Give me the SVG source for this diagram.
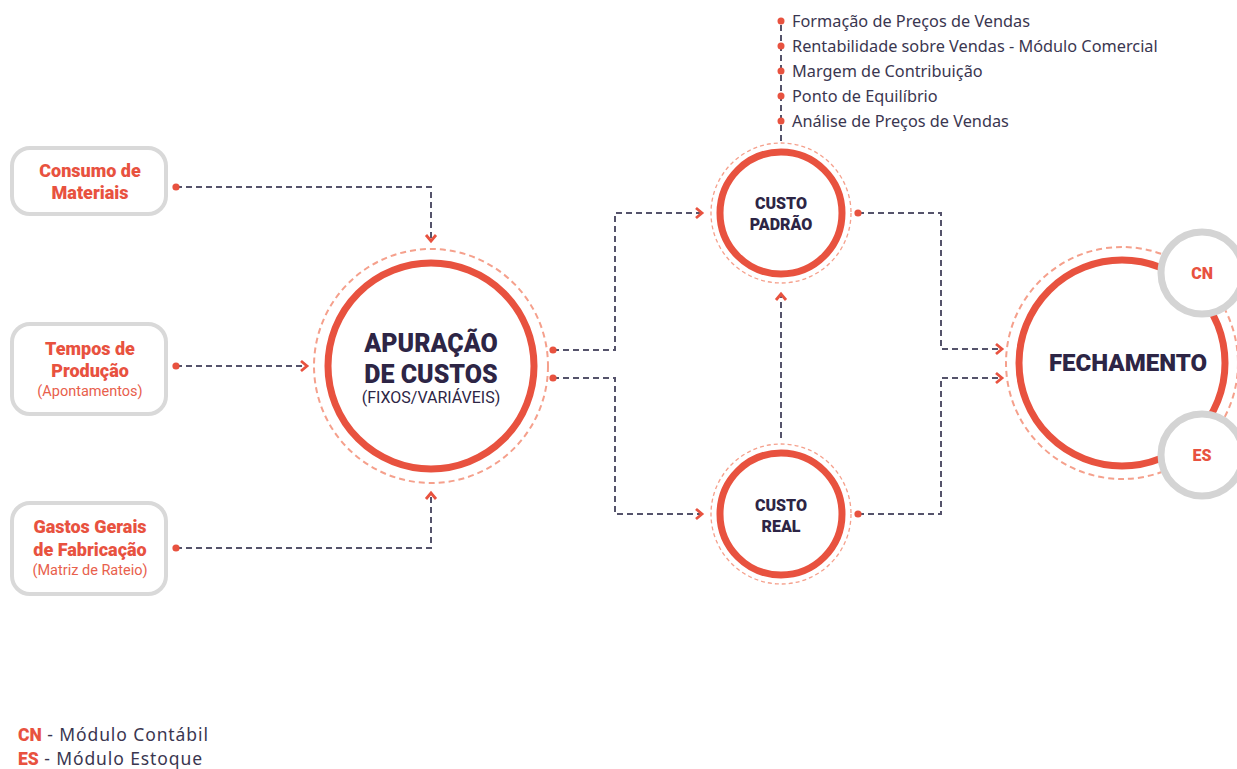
<svg xmlns="http://www.w3.org/2000/svg" width="1237" height="769" viewBox="0 0 1237 769">
<style>
.box{fill:#fff;stroke:#d9d9d9;stroke-width:4}
.ring{fill:#fff;stroke:#e8523f;stroke-width:7}
.halo{fill:none;stroke:#f5a08c;stroke-width:2;stroke-dasharray:6 4}
.halo2{fill:none;stroke:#f5a08c;stroke-width:1.3;stroke-dasharray:4 3}
.conn{fill:none;stroke:#55536b;stroke-width:2;stroke-dasharray:6 4}
.bt{font-family:Roboto,"Liberation Sans",sans-serif;font-weight:900;fill:#e8523f;text-anchor:middle}
.st{font-family:Roboto,"Liberation Sans",sans-serif;font-weight:400;fill:#e8604c;text-anchor:middle;font-size:14.5px}
.nt{font-family:Roboto,"Liberation Sans",sans-serif;font-weight:900;fill:#2d2545;text-anchor:middle}
.nr{font-family:Roboto,"Liberation Sans",sans-serif;font-weight:400;fill:#2d2545;text-anchor:middle}
.lt{font-family:"Noto Sans","Open Sans",sans-serif;fill:#3a3650;font-size:16.3px}
.lg{font-family:"Noto Sans","Open Sans",sans-serif;fill:#3a3650;font-size:17.5px;letter-spacing:0.9px}
.dot{fill:#e8523f}
.mod{fill:#fff;stroke:#d4d4d4;stroke-width:7}
</style>
<defs>
<marker id="arr" markerUnits="userSpaceOnUse" markerWidth="12" markerHeight="14" refX="8" refY="7" orient="auto">
<path d="M2,2 L8,7 L2,12" fill="none" stroke="#e8523f" stroke-width="2.8"/>
</marker>
<marker id="dot" markerUnits="userSpaceOnUse" markerWidth="10" markerHeight="10" refX="5" refY="5">
<circle cx="5" cy="5" r="3.6" fill="#e8523f"/>
</marker>
</defs>

<g id="connectors">
<path class="conn" d="M176,187 H431 V241" marker-start="url(#dot)" marker-end="url(#arr)"/>
<path class="conn" d="M176,366 H307" marker-start="url(#dot)" marker-end="url(#arr)"/>
<path class="conn" d="M176,548 H431 V493" marker-start="url(#dot)" marker-end="url(#arr)"/>
<path class="conn" d="M553,350 H615 V213 H702" marker-start="url(#dot)" marker-end="url(#arr)"/>
<path class="conn" d="M553,378 H615 V514 H702" marker-start="url(#dot)" marker-end="url(#arr)"/>
<path class="conn" d="M781,438 V294" marker-end="url(#arr)"/>
<path class="conn" d="M858,213 H941 V349 H1002" marker-start="url(#dot)" marker-end="url(#arr)"/>
<path class="conn" d="M858,514 H941 V378 H1002" marker-start="url(#dot)" marker-end="url(#arr)"/>
<path class="conn" d="M781,141 V21"/>
</g>

<g id="consumo">
<rect class="box" x="12" y="148" width="154" height="66" rx="18"/>
<text class="bt" x="90" y="177" font-size="18">Consumo de</text>
<text class="bt" x="90" y="199" font-size="18">Materiais</text>
</g>

<g id="tempos">
<rect class="box" x="12" y="324" width="154" height="90" rx="18"/>
<text class="bt" x="90" y="355" font-size="18">Tempos de</text>
<text class="bt" x="90" y="377" font-size="18">Produção</text>
<text class="st" x="90" y="396">(Apontamentos)</text>
</g>

<g id="gastos">
<rect class="box" x="12" y="503" width="154" height="91" rx="18"/>
<text class="bt" x="90" y="533" font-size="18">Gastos Gerais</text>
<text class="bt" x="90" y="556" font-size="18">de Fabricação</text>
<text class="st" x="90" y="575">(Matriz de Rateio)</text>
</g>

<g id="apuracao">
<circle class="halo" cx="431" cy="366" r="117"/>
<circle class="ring" cx="431" cy="366" r="103"/>
<text class="nt" x="431" y="352" font-size="25">APURAÇÃO</text>
<text class="nt" x="431" y="383" font-size="25">DE CUSTOS</text>
<text class="nr" x="431" y="403" font-size="16">(FIXOS/VARIÁVEIS)</text>
</g>

<g id="custo-padrao">
<circle class="halo2" cx="781" cy="213" r="70"/>
<circle class="ring" cx="781" cy="213" r="61" stroke-width="6"/>
<text class="nt" x="781" y="209" font-size="16">CUSTO</text>
<text class="nt" x="781" y="230" font-size="16">PADRÃO</text>
</g>

<g id="custo-real">
<circle class="halo2" cx="781" cy="514" r="70"/>
<circle class="ring" cx="781" cy="514" r="61" stroke-width="6"/>
<text class="nt" x="781" y="511" font-size="16">CUSTO</text>
<text class="nt" x="781" y="532" font-size="16">REAL</text>
</g>

<g id="lista">
<circle class="dot" cx="781" cy="21" r="3.5"/>
<circle class="dot" cx="781" cy="46" r="3.5"/>
<circle class="dot" cx="781" cy="71" r="3.5"/>
<circle class="dot" cx="781" cy="96" r="3.5"/>
<circle class="dot" cx="781" cy="121" r="3.5"/>
<text class="lt" x="792" y="27">Formação de Preços de Vendas</text>
<text class="lt" x="792" y="52">Rentabilidade sobre Vendas - Módulo Comercial</text>
<text class="lt" x="792" y="77">Margem de Contribuição</text>
<text class="lt" x="792" y="102">Ponto de Equilíbrio</text>
<text class="lt" x="792" y="127">Análise de Preços de Vendas</text>
</g>

<g id="fechamento">
<circle class="halo" cx="1122" cy="363" r="116"/>
<circle class="ring" cx="1122" cy="363" r="103"/>
<text class="nt" x="1128" y="371" font-size="24">FECHAMENTO</text>
</g>

<g id="cn">
<circle class="mod" cx="1202" cy="273" r="41"/>
<text class="bt" x="1202" y="279" font-size="16">CN</text>
</g>

<g id="es">
<circle class="mod" cx="1202" cy="455" r="41"/>
<text class="bt" x="1202" y="461" font-size="16">ES</text>
</g>

<g id="legenda">
<text class="lg" x="18" y="741"><tspan font-family="Roboto, Liberation Sans, sans-serif" font-weight="900" fill="#e8523f" letter-spacing="0">CN</tspan> - Módulo Contábil</text>
<text class="lg" x="18" y="765"><tspan font-family="Roboto, Liberation Sans, sans-serif" font-weight="900" fill="#e8523f" letter-spacing="0">ES</tspan> - Módulo Estoque</text>
</g>
</svg>
